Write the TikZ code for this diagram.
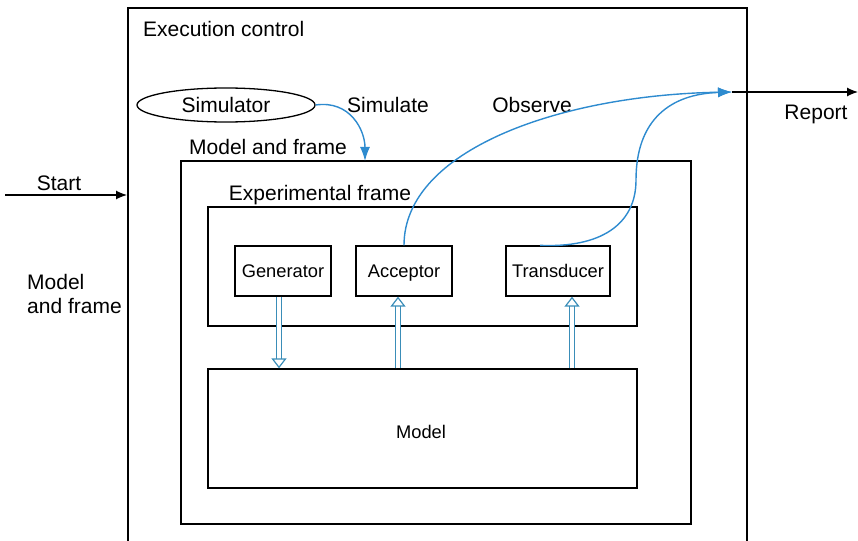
\documentclass[tikz,border=0pt]{standalone}
\usepackage{fontspec}
\setmainfont{Liberation Sans}
\usetikzlibrary{arrows.meta,shapes.geometric}
\definecolor{FlowBlue}{HTML}{2E8BCF}
\definecolor{PipeBlue}{HTML}{3A8DB8}
\tikzset{
  blk/.style={draw=black, line width=1.3pt, inner sep=0pt},
  lab/.style={font=\fontsize{21}{24}\selectfont, text=black, inner sep=0pt},
  smalllab/.style={font=\fontsize{18.3}{21}\selectfont, text=black, text height=14pt, text depth=1pt},
  flowarrow/.style={-{Latex[length=14pt, width=10pt]}, line width=1.4pt, draw=FlowBlue},
  plainarrow/.style={-{Latex[length=11pt, width=9pt]}, line width=1.2pt, draw=black},
  pipe/.style={draw=PipeBlue, line width=1.2pt, double=white, double distance=3.5pt,
    -{Triangle[open, length=10pt, width=15pt, line width=1.2pt]}},
}
\begin{document}
\begin{tikzpicture}[x=1pt, y=-1pt]
    \useasboundingbox (0,0) rectangle (858,540);
    \clip (0,0) rectangle (858,540);
    % outer control box, runs past the lower edge
    \node[blk, minimum width=619pt, minimum height=552pt] (exec) at (437.5,284) {};
    \node[lab, anchor=base west] (execlab) at (143,37) {Execution control};
    \node[draw=black, line width=1.3pt, ellipse, minimum width=178pt, minimum height=34pt, inner sep=0pt, lab] (sim) at (226,105) {Simulator};
    \node[lab, anchor=base] (simlab) at (388,113) {Simulate};
    \node[lab, anchor=base] (obslab) at (532,113) {Observe};
    \node[blk, minimum width=510pt, minimum height=363pt] (mf) at (436,342.5) {};
    \node[lab, anchor=base] (mflab) at (268,155) {Model and frame};
    \node[blk, minimum width=429pt, minimum height=119pt] (ef) at (422.5,266.5) {};
    \node[lab, anchor=base] (eflab) at (320,200) {Experimental frame};
    \node[blk, minimum width=96pt, minimum height=50pt, smalllab] (gen) at (283,271) {Generator};
    \node[blk, minimum width=96pt, minimum height=50pt, smalllab] (acc) at (404,271) {Acceptor};
    \node[blk, minimum width=104pt, minimum height=50pt, smalllab] (trans) at (558,271) {Transducer};
    \node[blk, minimum width=429pt, minimum height=119pt, smalllab] (model) at (422.5,428.5) {};
    \node[smalllab, anchor=base] (modellab) at (421,438) {Model};
    % left side
    \coordinate (startin) at (5,195);
    \coordinate (startend) at (127,195);
    \draw[plainarrow] (startin) -- (startend);
    \node[lab, anchor=base] (startlab) at (59,190) {Start};
    \node[lab, align=left, anchor=north west] (mflab2) at (27,274) {Model\\and frame};
    % right side
    \coordinate (rep) at (732,92);
    \coordinate (repend) at (858,92);
    \draw[plainarrow] (rep) -- (repend);
    \node[lab, anchor=base] (replab) at (816,120) {Report};
    % blue flows
    \coordinate (simin) at (365,161);
    \draw[flowarrow] (sim.east) .. controls (350,100) and (365,130) .. (simin);
    \draw[flowarrow] (acc.north) .. controls (404,150) and (560,95) .. (rep);
    \draw[flowarrow] ([xshift=-18pt]trans.north) .. controls (600,248) and (636,225) .. (636,180)
        .. controls (636,120) and (670,94) .. (rep);
    % pipes to and from the model
    \draw[pipe] ([xshift=-4pt]gen.south) -- ([xshift=-4pt]gen.south |- model.north);
    \draw[pipe] ([xshift=-6pt]acc.south |- model.north) -- ([xshift=-6pt]acc.south);
    \draw[pipe] ([xshift=14pt]trans.south |- model.north) -- ([xshift=14pt]trans.south);
\end{tikzpicture}
\end{document}
